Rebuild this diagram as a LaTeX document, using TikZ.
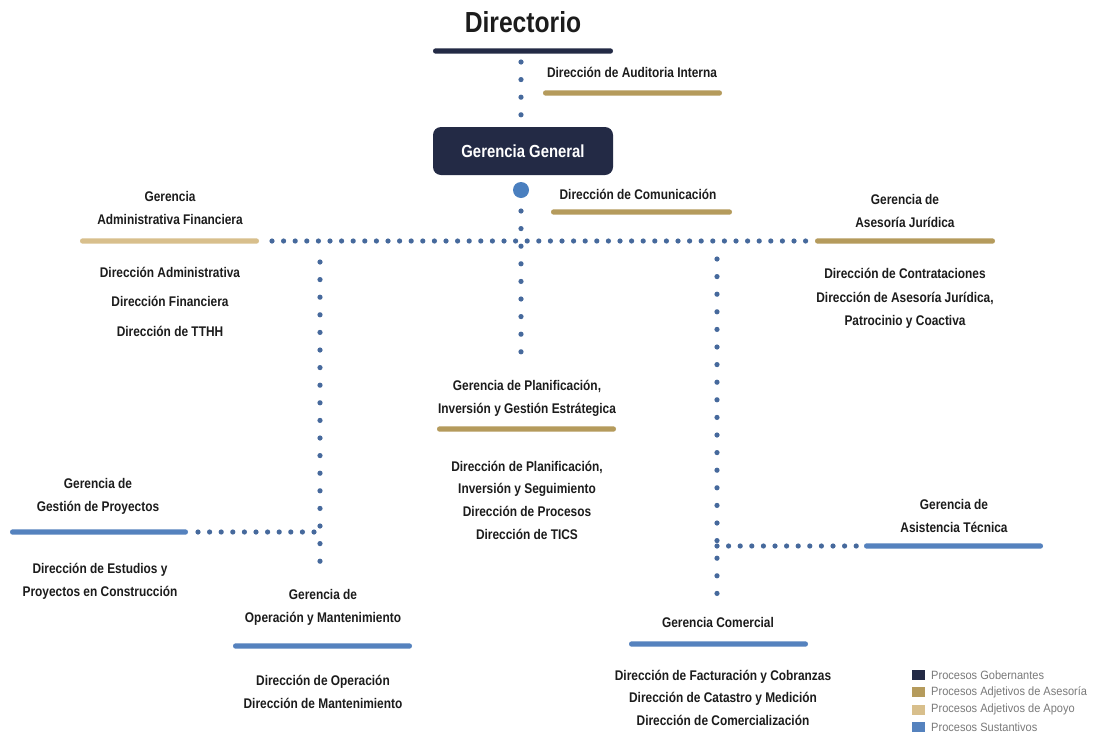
\documentclass[tikz,border=0pt]{standalone}
\usepackage{fontspec}
\setmainfont{Liberation Sans}[FakeStretch=0.85]
\newfontfamily\legfont{Liberation Sans}[FakeStretch=0.92]
\definecolor{navy}{HTML}{232A45}
\definecolor{gold}{HTML}{B59B5C}
\definecolor{tan}{HTML}{D8BF8C}
\definecolor{sblue}{HTML}{5582BE}
\definecolor{dotc}{HTML}{46699C}
\definecolor{hubc}{HTML}{4A7FBF}
\definecolor{txt}{HTML}{1C1C1C}
\definecolor{legtxt}{HTML}{7A7A7A}
\begin{document}
\begin{tikzpicture}[x=1pt,y=-1pt,
  bar/.style={rectangle, rounded corners=2.6pt, minimum height=5.4pt, inner sep=0pt, minimum width=180pt, fill=#1},
  lbl/.style={font=\bfseries\fontsize{14}{23}\selectfont, align=center, text=txt, inner sep=0pt},
  lst/.style={font=\bfseries\fontsize{14}{22.7}\selectfont, align=center, text=txt, inner sep=0pt},
  dotline/.style={draw=dotc, line width=5.2pt, line cap=round, dash pattern=on 0pt off 11.6pt},
  vdot/.style={draw=dotc, line width=5.2pt, line cap=round, dash pattern=on 0pt off 17.6pt},
  legbox/.style={rectangle, minimum width=13pt, minimum height=10pt, inner sep=0pt, fill=#1},
  legl/.style={font=\legfont\fontsize{12}{14}\selectfont, text=legtxt, anchor=west, inner sep=0pt}
]
\useasboundingbox[fill=white] (0,0) rectangle (1094,734);

% Directorio
\node[font=\bfseries\fontsize{29}{32}\selectfont, text=txt, inner sep=0pt] (dirlbl) at (523,22) {Directorio};
\node[bar=navy] (dirbar) at (523,51) {};

% Auditoria
\node[lbl] (audlbl) at (632,72) {Dirección de Auditoria Interna};
\node[bar=gold, minimum width=179pt] (audbar) at (632.5,93) {};

% Gerencia General
\node[rectangle, rounded corners=8pt, fill=navy, minimum width=180pt, minimum height=48pt, inner sep=0pt,
      text=white, font=\bfseries\fontsize{17.5}{20}\selectfont] (gg) at (523,151) {Gerencia General};
\node[circle, fill=hubc, minimum size=16pt, inner sep=0pt] (hub) at (521,190) {};

% Comunicacion
\node[lbl] (comlbl) at (638,194) {Dirección de Comunicación};
\node[bar=gold, minimum width=181pt] (combar) at (641.5,212) {};

% Administrativa Financiera
\node[lbl] (afinlbl) at (170,207.5) {Gerencia\\Administrativa Financiera};
\node[bar=tan, minimum width=179pt] (afinbar) at (169.5,241) {};
\node[lbl, font=\bfseries\fontsize{14}{29.5}\selectfont] (afinlist) at (170,301.5) {Dirección Administrativa\\Dirección Financiera\\Dirección de TTHH};

% Asesoria Juridica
\node[lbl] (ajlbl) at (905,210.5) {Gerencia de\\Asesoría Jurídica};
\node[bar=gold] (ajbar) at (905,241) {};
\node[lst, font=\bfseries\fontsize{14}{23.5}\selectfont] (ajlist) at (905,298.5) {Dirección de Contrataciones\\Dirección de Asesoría Jurídica,\\Patrocinio y Coactiva};

% Planificacion
\node[lbl] (planlbl) at (527,398.5) {Gerencia de Planificación,\\Inversión y Gestión Estrátegica};
\node[bar=gold, minimum width=179pt] (planbar) at (526.5,429) {};
\node[lst] (planlist) at (527,500) {Dirección de Planificación,\\Inversión y Seguimiento\\Dirección de Procesos\\Dirección de TICS};

% Gestion de Proyectos
\node[lbl] (gplbl) at (98,496) {Gerencia de\\Gestión de Proyectos};
\node[bar=sblue, minimum width=178pt] (gpbar) at (99,532) {};
\node[lst, font=\bfseries\fontsize{14}{23}\selectfont] (gplist) at (100,581.5) {Dirección de Estudios y\\Proyectos en Construcción};

% Operacion y Mantenimiento
\node[lbl] (omlbl) at (323,607.5) {Gerencia de\\Operación y Mantenimiento};
\node[bar=sblue, minimum width=179pt] (ombar) at (322.5,646) {};
\node[lst, font=\bfseries\fontsize{14}{23}\selectfont] (omlist) at (323,691.5) {Dirección de Operación\\Dirección de Mantenimiento};

% Asistencia Tecnica
\node[lbl] (atlbl) at (954,515.5) {Gerencia de\\Asistencia Técnica};
\node[bar=sblue, minimum width=179pt] (atbar) at (953.5,546) {};

% Comercial
\node[lbl] (gclbl) at (718,622) {Gerencia Comercial};
\node[bar=sblue, minimum width=179pt] (gcbar) at (718.5,644) {};
\node[lst, font=\bfseries\fontsize{14}{22.5}\selectfont] (gclist) at (723,697.5) {Dirección de Facturación y Cobranzas\\Dirección de Catastro y Medición\\Dirección de Comercialización};

% connectors
\coordinate (t1) at (521,62);
\draw[vdot] (t1) -- (t1 |- gg.north);
\coordinate (t2) at (521,211);
\coordinate (b2) at (521,356);
\draw[vdot] (t2) -- (b2);
\coordinate (hl) at (272,241);
\coordinate (hr) at (808,241);
\draw[dotline] (hl) -- (hr);
\coordinate (lv1) at (320,262);
\coordinate (lv2) at (320,566);
\draw[vdot] (lv1) -- (lv2);
\coordinate (gph) at (198,532);
\draw[dotline] (gph) -- (gph -| lv1);
\coordinate (rv1) at (717,259);
\coordinate (rv2) at (717,601);
\draw[vdot] (rv1) -- (rv2);
\coordinate (ath) at (717,546);
\draw[dotline] (ath) -- ([xshift=-6pt]atbar.west);

% legend
\node[legbox=navy] (lg1) at (918.5,675) {};
\node[legl] (lg1t) at (931,675) {Procesos Gobernantes};
\node[legbox=gold] (lg2) at (918.5,692) {};
\node[legl] (lg2t) at (931,692) {Procesos Adjetivos de Asesoría};
\node[legbox=tan] (lg3) at (918.5,709.5) {};
\node[legl] (lg3t) at (931,709.5) {Procesos Adjetivos de Apoyo};
\node[legbox=sblue] (lg4) at (918.5,727) {};
\node[legl] (lg4t) at (931,727) {Procesos Sustantivos};
\end{tikzpicture}
\end{document}
